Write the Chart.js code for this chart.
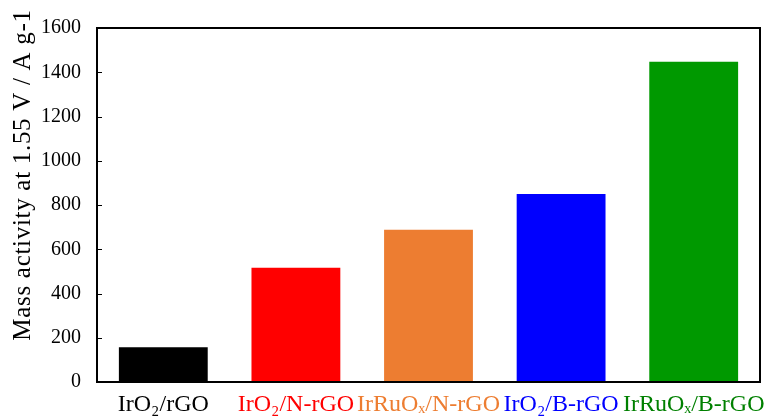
<!DOCTYPE html>
<html>
<head>
<meta charset="utf-8">
<script src="https://cdn.jsdelivr.net/npm/chart.js@4"></script>
<style>
html,body{margin:0;padding:0;background:#fff;}
#wrap{width:779px;height:419px;}
</style>
</head>
<body>
<div id="wrap"><canvas id="c" width="779" height="419"></canvas></div>
<script>
const categories = ['IrO\u2082/rGO', 'IrO\u2082/N-rGO', 'IrRuO\u2093/N-rGO', 'IrO\u2082/B-rGO', 'IrRuO\u2093/B-rGO'];
const massActivity = [157, 516, 688, 850, 1447];
const barColors = ['#000000', '#FF0000', '#ED7D31', '#0000FF', '#009900'];
const labelColors = ['#000000', '#FF0000', '#ED7D31', '#0000FF', '#008000'];
const yTicks = [0, 200, 400, 600, 800, 1000, 1200, 1400, 1600];
const yTitle = 'Mass activity at 1.55 V / A g-1';

const FONT = "'Liberation Serif', 'Times New Roman', serif";

const framePlugin = {
  id: 'frame',
  afterDraw(chart) {
    const ctx = chart.ctx, a = chart.chartArea, ys = chart.scales.y;
    ctx.save();
    ctx.strokeStyle = '#000';
    ctx.lineWidth = 2;
    ctx.strokeRect(a.left, a.top, a.right - a.left, a.bottom - a.top);
    ctx.lineWidth = 1;
    ctx.beginPath();
    yTicks.forEach(v => {
      const py = Math.round(ys.getPixelForValue(v)) + 0.5;
      ctx.moveTo(a.left, py);
      ctx.lineTo(a.left + 5, py);
    });
    ctx.stroke();
    ctx.fillStyle = '#000';
    ctx.font = '25px ' + FONT;
    try { ctx.letterSpacing = '0.7px'; } catch (e) {}
    ctx.textAlign = 'center';
    ctx.textBaseline = 'middle';
    ctx.translate(23, 175);
    ctx.rotate(-Math.PI / 2);
    ctx.fillText(yTitle, 0, 0);
    ctx.restore();
  }
};

new Chart(document.getElementById('c'), {
  type: 'bar',
  data: {
    labels: categories,
    datasets: [{
      data: massActivity,
      backgroundColor: barColors,
      borderWidth: 0,
      barPercentage: 0.67,
      categoryPercentage: 1.0
    }]
  },
  options: {
    responsive: false,
    animation: false,
    devicePixelRatio: 1,
    layout: { padding: { top: 18, right: 19, left: 0, bottom: 0 } },
    plugins: { legend: { display: false }, tooltip: { enabled: false } },
    scales: {
      x: {
        grid: { display: false, drawTicks: false },
        border: { display: false },
        ticks: {
          color: labelColors,
          font: { family: FONT, size: 24 },
          padding: 8,
          maxRotation: 0,
          autoSkip: false
        },
        afterFit(s) { s.height = 37; }
      },
      y: {
        min: 0, max: 1600,
        grid: { display: false, drawTicks: false },
        border: { display: false },
        ticks: {
          stepSize: 200,
          color: '#000',
          font: { family: FONT, size: 20 },
          padding: 16,
          callback: v => String(v)
        },
        afterFit(s) { s.width = 97; }
      }
    }
  },
  plugins: [framePlugin]
});
</script>
</body>
</html>
